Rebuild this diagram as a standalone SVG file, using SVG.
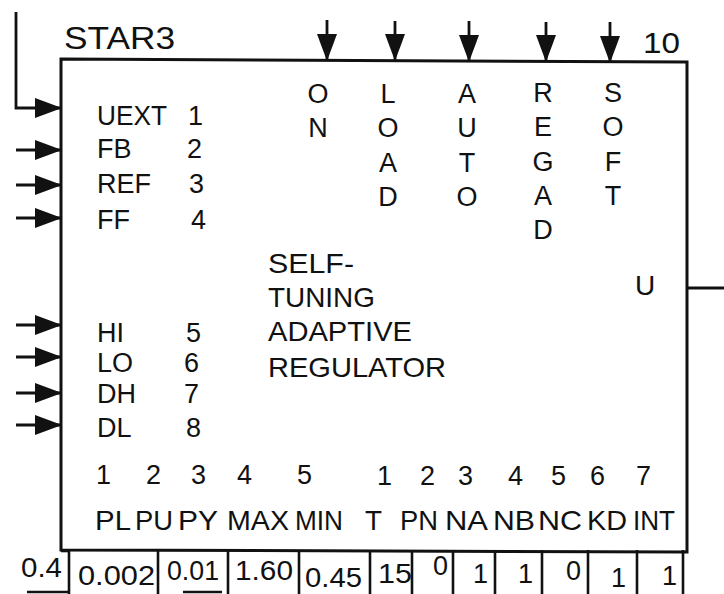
<svg xmlns="http://www.w3.org/2000/svg" width="724" height="594" viewBox="0 0 724 594">
<style>
text{font-family:"Liberation Sans",Arial,Helvetica,sans-serif;fill:#111}
.t27{font-size:27px}
.t28{font-size:28px}
.col{font-size:27px;text-anchor:middle}
.v{font-size:27px}
.ln{fill:none;stroke:#111;stroke-width:2.8}
.box{fill:#fff;stroke:#111;stroke-width:3}
.cell{stroke:#111;stroke-width:2.6}
</style>
<defs>
<marker id="ah" viewBox="0 0 27 20" refX="26" refY="10" markerWidth="27" markerHeight="20" markerUnits="userSpaceOnUse" orient="auto">
<path d="M0,0 L27,10 L0,20 z" fill="#111"/>
</marker>
</defs>
<rect width="724" height="594" fill="#fff"/>
<g id="star3">
<polygon class="box" points="61,59 687,62 687,552 61,550"/>
<text class="t28" x="64" y="49" style="font-size:32px" textLength="111" lengthAdjust="spacingAndGlyphs">STAR3</text>
<text x="643" y="53" style="font-size:30px" textLength="37" lengthAdjust="spacingAndGlyphs">10</text>
<text class="t27" x="97" y="125" textLength="70" lengthAdjust="spacingAndGlyphs">UEXT</text><text class="t27" x="188" y="125">1</text>
<text class="t27" x="97" y="158">FB</text><text class="t27" x="187" y="158">2</text>
<text class="t27" x="97" y="193">REF</text><text class="t27" x="189" y="193">3</text>
<text class="t27" x="97" y="229">FF</text><text class="t27" x="191" y="229">4</text>
<text class="t27" x="97" y="342">HI</text><text class="t27" x="186" y="342">5</text>
<text class="t27" x="97" y="372">LO</text><text class="t27" x="184" y="372">6</text>
<text class="t27" x="97" y="403">DH</text><text class="t27" x="184" y="403">7</text>
<text class="t27" x="97" y="437">DL</text><text class="t27" x="186" y="437">8</text>
<g class="col">
<text x="318" y="103">O</text><text x="318" y="137">N</text>
<text x="388" y="103">L</text><text x="388" y="137">O</text><text x="388" y="172">A</text><text x="388" y="206">D</text>
<text x="467" y="103">A</text><text x="467" y="137">U</text><text x="467" y="172">T</text><text x="467" y="206">O</text>
<text x="543" y="102">R</text><text x="543" y="136">E</text><text x="543" y="171">G</text><text x="543" y="205">A</text><text x="543" y="239">D</text>
<text x="613" y="102">S</text><text x="613" y="136">O</text><text x="613" y="171">F</text><text x="613" y="205">T</text>
</g>
<text class="t28" x="268" y="273" textLength="86" lengthAdjust="spacingAndGlyphs">SELF-</text>
<text class="t28" x="268" y="307" textLength="107" lengthAdjust="spacingAndGlyphs">TUNING</text>
<text class="t28" x="268" y="341" textLength="144" lengthAdjust="spacingAndGlyphs">ADAPTIVE</text>
<text class="t28" x="268" y="377" textLength="178" lengthAdjust="spacingAndGlyphs">REGULATOR</text>
<text class="t28" x="635" y="295">U</text>
<g class="t27">
<text x="96" y="484">1</text><text x="146" y="484">2</text><text x="191" y="484">3</text><text x="237" y="484">4</text><text x="297" y="484">5</text>
<text x="377" y="485">1</text><text x="420" y="485">2</text><text x="458" y="485">3</text><text x="508" y="485">4</text><text x="551" y="485">5</text><text x="590" y="485">6</text><text x="636" y="485">7</text>
</g>
<g class="t28">
<text x="95" y="530" textLength="36" lengthAdjust="spacingAndGlyphs">PL</text>
<text x="135" y="530" textLength="38" lengthAdjust="spacingAndGlyphs">PU</text>
<text x="178" y="530" textLength="40" lengthAdjust="spacingAndGlyphs">PY</text>
<text x="227" y="530" textLength="62" lengthAdjust="spacingAndGlyphs">MAX</text>
<text x="295" y="530" textLength="48" lengthAdjust="spacingAndGlyphs">MIN</text>
<text x="365" y="530" textLength="17" lengthAdjust="spacingAndGlyphs">T</text>
<text x="400" y="530" textLength="38" lengthAdjust="spacingAndGlyphs">PN</text>
<text x="445" y="530" textLength="43" lengthAdjust="spacingAndGlyphs">NA</text>
<text x="493" y="530" textLength="42" lengthAdjust="spacingAndGlyphs">NB</text>
<text x="538" y="530" textLength="44" lengthAdjust="spacingAndGlyphs">NC</text>
<text x="587" y="530" textLength="40" lengthAdjust="spacingAndGlyphs">KD</text>
<text x="633" y="530" textLength="42" lengthAdjust="spacingAndGlyphs">INT</text>
</g>
</g>
<g id="parameters">
<line class="cell" x1="61" y1="551" x2="69" y2="551"/>
<line class="cell" x1="69" y1="550" x2="69" y2="594"/>
<line class="cell" x1="158" y1="550" x2="158" y2="594"/>
<line class="cell" x1="228" y1="550" x2="228" y2="594"/>
<line class="cell" x1="299" y1="550" x2="299" y2="594"/>
<line class="cell" x1="370" y1="550" x2="370" y2="594"/>
<line class="cell" x1="412" y1="550" x2="412" y2="594"/>
<line class="cell" x1="453" y1="550" x2="453" y2="594"/>
<line class="cell" x1="495" y1="550" x2="495" y2="594"/>
<line class="cell" x1="542" y1="550" x2="542" y2="594"/>
<line class="cell" x1="588" y1="550" x2="588" y2="594"/>
<line class="cell" x1="637" y1="550" x2="637" y2="594"/>
<line class="cell" x1="683" y1="550" x2="683" y2="594"/>
<line class="cell" x1="27" y1="592" x2="69" y2="592"/>
<line class="cell" x1="183" y1="592" x2="222" y2="592"/>
<text class="v" x="21" y="577" textLength="41" lengthAdjust="spacingAndGlyphs">0.4</text>
<text class="v" x="78" y="585" textLength="77" lengthAdjust="spacingAndGlyphs">0.002</text>
<text class="v" x="167" y="580" textLength="52" lengthAdjust="spacingAndGlyphs">0.01</text>
<text class="v" x="235" y="580" textLength="58" lengthAdjust="spacingAndGlyphs">1.60</text>
<text class="v" x="305" y="587" textLength="57" lengthAdjust="spacingAndGlyphs">0.45</text>
<text class="v" x="378" y="583" textLength="34" lengthAdjust="spacingAndGlyphs">15</text>
<text class="v" x="433" y="575">0</text>
<text class="v" x="473" y="583">1</text>
<text class="v" x="518" y="583">1</text>
<text class="v" x="566" y="580">0</text>
<text class="v" x="611" y="587">1</text>
<text class="v" x="662" y="585">1</text>
</g>
<g id="connectors">
<path class="ln" d="M16,12 V108 H61" marker-end="url(#ah)"/>
<line class="ln" x1="16" y1="150" x2="61" y2="150" marker-end="url(#ah)"/>
<line class="ln" x1="16" y1="185" x2="61" y2="185" marker-end="url(#ah)"/>
<line class="ln" x1="16" y1="218" x2="61" y2="218" marker-end="url(#ah)"/>
<line class="ln" x1="16" y1="325" x2="61" y2="325" marker-end="url(#ah)"/>
<line class="ln" x1="16" y1="357" x2="61" y2="357" marker-end="url(#ah)"/>
<line class="ln" x1="16" y1="393" x2="61" y2="393" marker-end="url(#ah)"/>
<line class="ln" x1="16" y1="425" x2="61" y2="425" marker-end="url(#ah)"/>
<line class="ln" x1="327" y1="20" x2="327" y2="60" marker-end="url(#ah)"/>
<line class="ln" x1="395" y1="21" x2="395" y2="60" marker-end="url(#ah)"/>
<line class="ln" x1="469" y1="21" x2="469" y2="61" marker-end="url(#ah)"/>
<line class="ln" x1="546" y1="22" x2="546" y2="61" marker-end="url(#ah)"/>
<line class="ln" x1="610" y1="22" x2="610" y2="62" marker-end="url(#ah)"/>
<line class="ln" x1="687" y1="288" x2="724" y2="288"/>
</g>
</svg>
